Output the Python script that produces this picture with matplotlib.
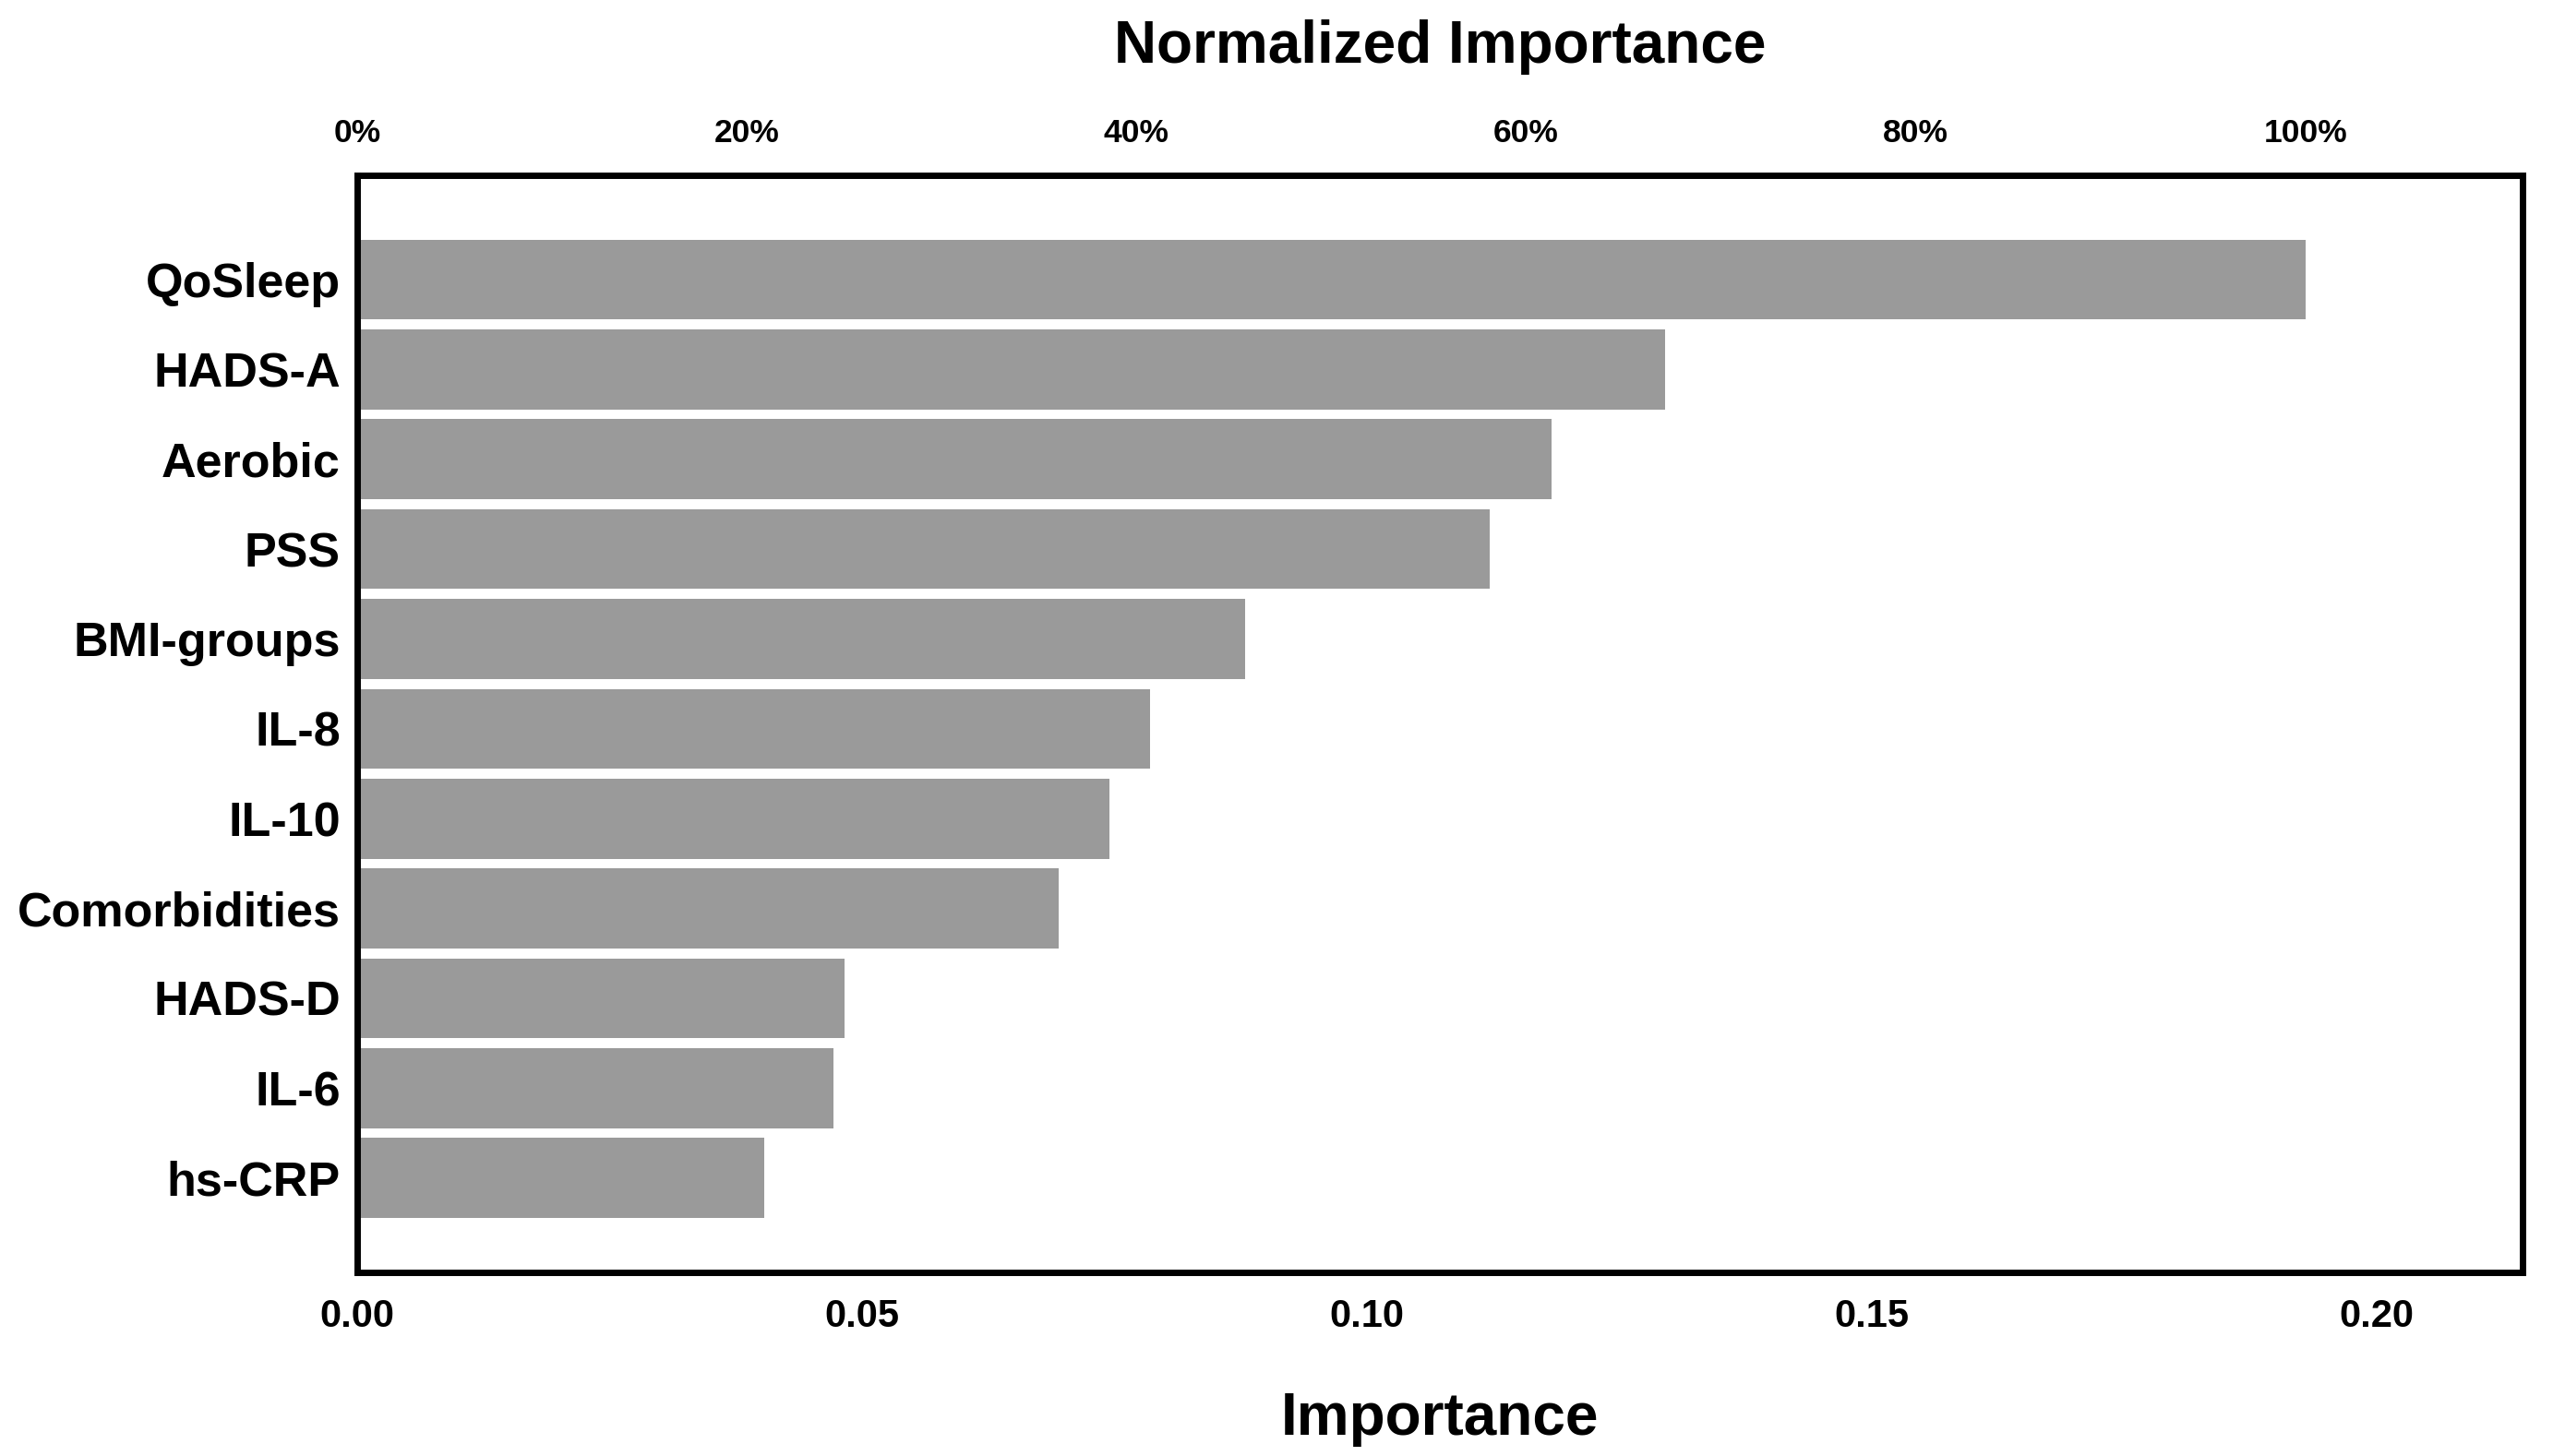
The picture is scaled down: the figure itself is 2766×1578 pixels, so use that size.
import matplotlib
matplotlib.use("Agg")
import matplotlib.pyplot as plt
from matplotlib.ticker import FuncFormatter

categories = ["QoSleep", "HADS-A", "Aerobic", "PSS", "BMI-groups", "IL-8", "IL-10",
              "Comorbidities", "HADS-D", "IL-6", "hs-CRP"]
importance = [0.1930, 0.1296, 0.1183, 0.1122, 0.0880, 0.0785, 0.0745,
              0.0695, 0.0483, 0.0472, 0.0403]
bottom_ticks = [0.00, 0.05, 0.10, 0.15, 0.20]
top_ticks = [0, 20, 40, 60, 80, 100]

plt.rcParams['font.family'] = ['Liberation Sans', 'DejaVu Sans']
plt.rcParams['font.weight'] = 'bold'

W, H = 2766, 1578
L, R, T, B = 387, 2733, 190, 1379
fig = plt.figure(figsize=(W / 100, H / 100), dpi=100)
ax = fig.add_axes([L / W, 1 - B / H, (R - L) / W, (B - T) / H])

pos = list(range(len(categories)))
ax.barh(pos, importance, height=0.89, color='#9a9a9a', edgecolor='none')
ax.set_ylim(len(categories) - 1 + 1.05, -1.16)
ax.set_xlim(0, 0.2145)
ax.set_yticks(pos)
ax.set_yticklabels(categories, fontsize=37.5, fontweight='bold')
ax.set_xticks(bottom_ticks)
ax.xaxis.set_major_formatter(FuncFormatter(lambda v, p: f"{v:.2f}"))
ax.tick_params(axis='x', length=0, labelsize=30, pad=20)
ax.tick_params(axis='y', length=0, pad=13)
for lbl in ax.get_xticklabels():
    lbl.set_fontweight('bold')

maxv = max(importance)
sec = ax.secondary_xaxis('top', functions=(lambda x: x / maxv * 100, lambda p: p * maxv / 100))
sec.set_xticks(top_ticks)
sec.xaxis.set_major_formatter(FuncFormatter(lambda v, p: f"{v:.0f}%"))
sec.tick_params(axis='x', length=0, labelsize=25.5, pad=21)
for lbl in sec.get_xticklabels():
    lbl.set_fontweight('bold')
sec.spines['top'].set_visible(False)

for s in ['left', 'right', 'top', 'bottom']:
    ax.spines[s].set_linewidth(5)

cx = (L + R) / 2 / W
fig.text(cx, 1 - 68 / H, "Normalized Importance", ha='center', va='baseline',
         fontsize=46, fontweight='bold')
fig.text(cx, 1 - 1555 / H, "Importance", ha='center', va='baseline',
         fontsize=46, fontweight='bold')

fig.savefig("out.png", dpi=100, facecolor='white')
